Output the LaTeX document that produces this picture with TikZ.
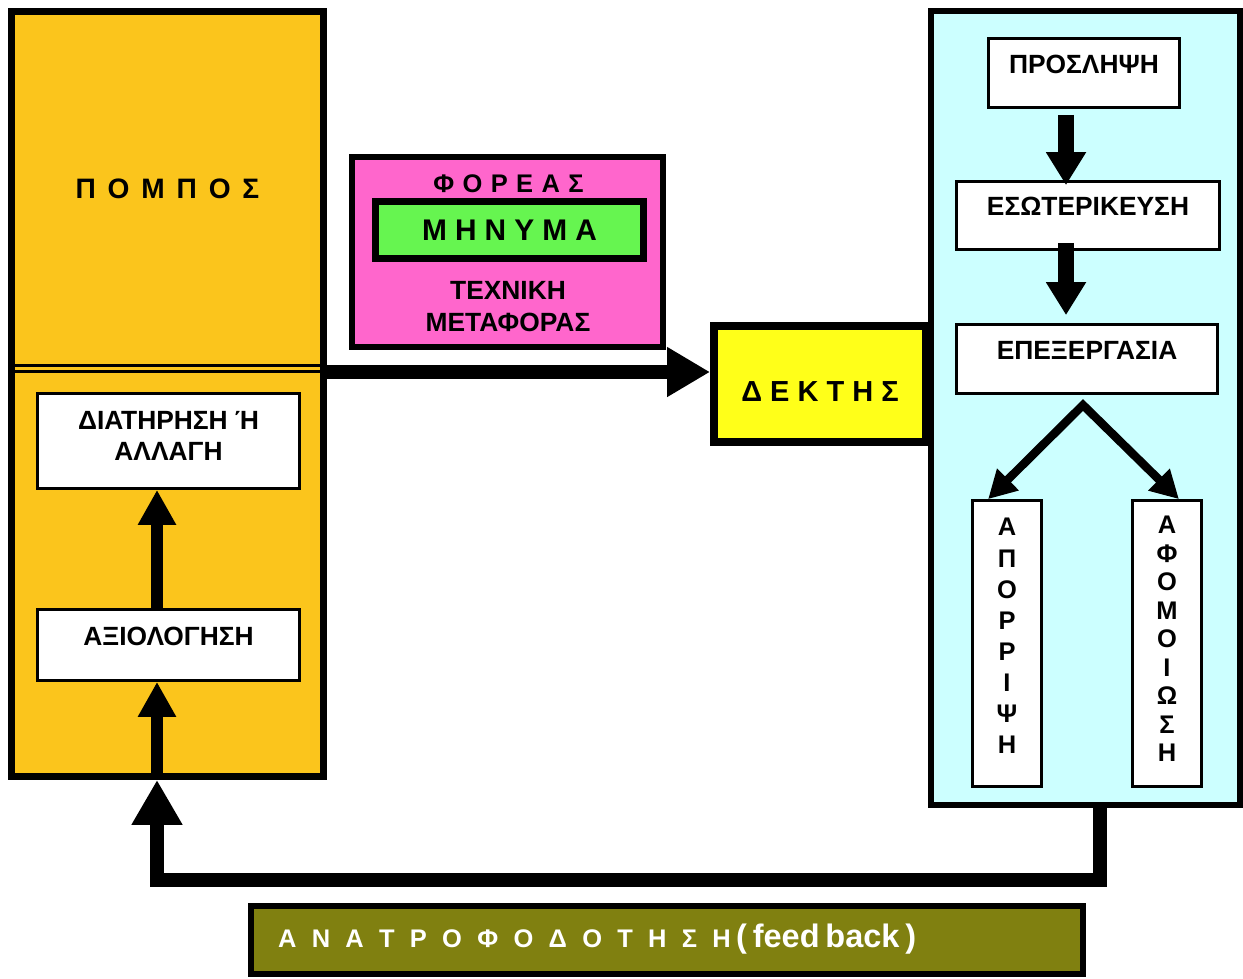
\documentclass[tikz,border=0pt]{standalone}
\usepackage{fontspec}
\setmainfont{Liberation Sans}
\usetikzlibrary{arrows.meta,calc}
\definecolor{gold}{RGB}{251,197,28}
\definecolor{pinkbox}{RGB}{255,102,204}
\definecolor{greenbox}{RGB}{102,245,80}
\definecolor{yellowbox}{RGB}{255,255,25}
\definecolor{cyanbox}{RGB}{204,255,255}
\definecolor{olivebox}{RGB}{128,128,16}
\newcommand\labfont{\fontsize{15pt}{17.6pt}\selectfont\bfseries}
\begin{document}
\begin{tikzpicture}[x=0.02cm,y=-0.02cm,
  wbox/.style={draw, line width=1.6pt, fill=white, inner sep=0pt, font=\labfont, align=center},
  bigarr/.style={line width=8pt, arrows={-Triangle[length=0.86cm,width=0.94cm]}},
  varr/.style={line width=9pt, arrows={-Triangle[length=0.66cm,width=0.76cm]}},
  larr/.style={line width=6.8pt, arrows={-Triangle[length=0.7cm,width=0.72cm]}},
  darr/.style={line width=4.8pt, line join=miter, arrows={Triangle[length=0.56cm,width=0.58cm]-Triangle[length=0.56cm,width=0.58cm]}},
  fbarr/.style={line width=8.5pt, line join=miter, arrows={-Triangle[length=0.9cm,width=0.96cm]}}]
\useasboundingbox (0,0) rectangle (1243,978);
% left (sender) column
\node[draw, line width=4pt, fill=gold, minimum width=6.24cm, minimum height=15.3cm, inner sep=0pt] (sender) at (167.5,394) {};
\node[draw, line width=1.7pt, minimum width=6.24cm, minimum height=7.09cm, inner sep=0pt, font=\fontsize{16pt}{19pt}\selectfont\bfseries] (pompos) at (167.5,188.75) {\spaceskip=0.42em Π Ο Μ Π Ο Σ};
\node[draw, line width=1.7pt, minimum width=6.24cm, minimum height=8.1cm, inner sep=0pt] (lowerleft) at (167.5,574) {};
\node[wbox, minimum width=5.24cm, minimum height=1.9cm, text depth=6.3pt] (diat) at (168.5,441) {ΔΙΑΤΗΡΗΣΗ Ή\\ΑΛΛΑΓΗ};
\node[wbox, minimum width=5.24cm, minimum height=1.42cm, text depth=10.2pt] (axiol) at (168.5,645) {ΑΞΙΟΛΟΓΗΣΗ};
% carrier
\node[draw, line width=3.4pt, fill=pinkbox, minimum width=6.22cm, minimum height=3.8cm, inner sep=0pt] (carrier) at (507.5,252) {};
\node[font=\fontsize{14.5pt}{17pt}\selectfont\bfseries, inner sep=0pt] (foreas) at (508.5,183.5) {\spaceskip=0.33em Φ Ο Ρ Ε Α Σ};
\node[draw, line width=4pt, fill=greenbox, minimum width=5.36cm, minimum height=1.14cm, inner sep=0pt, font=\fontsize{17pt}{20pt}\selectfont\bfseries] (message) at (509.5,230) {\spaceskip=0.27em Μ Η Ν Υ Μ Α};
\node[font=\fontsize{15pt}{18.2pt}\selectfont\bfseries, align=center, inner sep=0pt] (technique) at (508,306.5) {ΤΕΧΝΙΚΗ\\ΜΕΤΑΦΟΡΑΣ};
% receiver column
\node[draw, line width=3.4pt, fill=cyanbox, minimum width=6.18cm, minimum height=15.88cm, inner sep=0pt] (receiver) at (1085.5,408) {};
\node[draw, line width=4.5pt, fill=yellowbox, minimum width=4.24cm, minimum height=2.32cm, inner sep=0pt, text height=19.8pt, font=\fontsize{16.5pt}{19pt}\selectfont\bfseries] (dektis) at (820,384) {Δ Ε Κ Τ Η Σ};
\node[wbox, minimum width=3.82cm, minimum height=1.38cm, text depth=10.2pt] (prosl) at (1084,73) {ΠΡΟΣΛΗΨΗ};
\node[wbox, minimum width=5.26cm, minimum height=1.36cm, text depth=10.8pt] (esot) at (1088,215.5) {ΕΣΩΤΕΡΙΚΕΥΣΗ};
\node[wbox, minimum width=5.22cm, minimum height=1.38cm, text depth=10.2pt] (epex) at (1087,359) {ΕΠΕΞΕΡΓΑΣΙΑ};
\node[wbox, minimum width=1.38cm, minimum height=5.72cm, text depth=8.5pt, font=\fontsize{14.5pt}{17.7pt}\selectfont\bfseries] (apor) at (1007,643.5) {Α\\Π\\Ο\\Ρ\\Ρ\\Ι\\Ψ\\Η};
\node[wbox, minimum width=1.38cm, minimum height=5.72cm, text depth=5.1pt, font=\fontsize{14.5pt}{16.2pt}\selectfont\bfseries] (afom) at (1167,643.5) {Α\\Φ\\Ο\\Μ\\Ο\\Ι\\Ω\\Σ\\Η};
% feedback label
\node[draw, line width=3.4pt, fill=olivebox, minimum width=16.64cm, minimum height=1.36cm, text width=15.56cm, align=left, inner sep=0pt, text height=12pt, text depth=3pt, text=white, font=\bfseries] (feedback) at (667,940) {{\fontsize{14.5pt}{17pt}\selectfont\spaceskip=0.6em Α Ν Α Τ Ρ Ο Φ Ο Δ Ο Τ Η Σ Η}\hspace{3pt}{\fontsize{18.5pt}{22pt}\selectfont( feed back )}};
% helper coordinates
\coordinate (mA) at (0,372);
\coordinate (ax) at (1066,0);
\coordinate (lx) at (157,0);
\coordinate (apex) at (1083,405);
\coordinate (fbR) at (1100,880);
\coordinate (fbL) at (157,880);
% connectors
\draw[bigarr] (sender.east |- mA) -- (dektis.west |- mA);
\draw[varr] ($(prosl.south -| ax)+(0,6)$) -- ($(esot.north -| ax)+(0,5)$);
\draw[varr] ($(esot.south -| ax)+(0,-8)$) -- ($(epex.north -| ax)+(0,-8)$);
\draw[darr] ($(apor.north west)+(17,0)$) -- (apex) -- ($(afom.north east)+(-24,0)$);
\draw[larr] ($(sender.south -| lx)+(0,-7)$) -- (axiol.south -| lx);
\draw[larr] (axiol.north -| lx) -- (diat.south -| lx);
\draw[fbarr] (receiver.south -| fbR) -- (fbR) -- (fbL) -- (sender.south -| fbL);
\end{tikzpicture}
\end{document}
